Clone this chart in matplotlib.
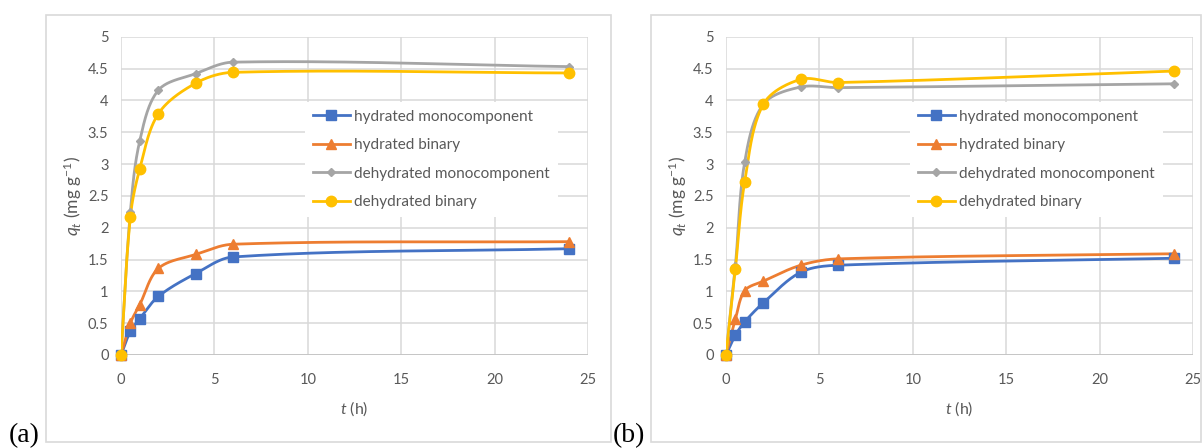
import matplotlib.pyplot as plt
from matplotlib.patches import Rectangle
import numpy as np

plt.rcParams['font.family'] = ['Lato', 'DejaVu Sans']
plt.rcParams['mathtext.fontset'] = 'custom'
plt.rcParams['mathtext.rm'] = 'Lato'
plt.rcParams['mathtext.it'] = 'Lato:italic'

# sampling times (h)
t_h = [0, 0.5, 1, 2, 4, 6, 24]

labels = ['hydrated monocomponent', 'hydrated binary',
          'dehydrated monocomponent', 'dehydrated binary']

# (a) uptake q_t (mg/g)
a_hyd_mono = [0, 0.37, 0.57, 0.92, 1.28, 1.54, 1.67]
a_hyd_bin = [0, 0.50, 0.79, 1.36, 1.58, 1.74, 1.78]
a_dehyd_mono = [0, 2.25, 3.36, 4.16, 4.42, 4.60, 4.53]
a_dehyd_bin = [0, 2.17, 2.92, 3.79, 4.27, 4.44, 4.43]

# (b) uptake q_t (mg/g)
b_hyd_mono = [0, 0.31, 0.52, 0.82, 1.30, 1.41, 1.52]
b_hyd_bin = [0, 0.56, 1.01, 1.16, 1.41, 1.51, 1.59]
b_dehyd_mono = [0, 1.40, 3.03, 3.94, 4.21, 4.20, 4.26]
b_dehyd_bin = [0, 1.35, 2.72, 3.94, 4.33, 4.28, 4.46]

colors = ['#4472C4', '#ED7D31', '#A5A5A5', '#FFC000']
markers = ['s', '^', 'D', 'o']
msizes = [6.5, 7, 4.5, 7.5]
txt_col = '#595959'
grid_col = '#D9D9D9'


def smooth(ax, x, y, n=40):
    # spline through the points, built in display space so segments scale evenly
    pts = ax.transData.transform(np.column_stack([x, y]))
    out = [pts[:1]]
    m = len(pts)
    for i in range(m - 1):
        p0, p1 = pts[i], pts[i + 1]
        d1 = np.linalg.norm(p1 - p0)
        if i > 0:
            dp = np.linalg.norm(p0 - pts[i - 1])
            c1 = p0 + (p1 - pts[i - 1]) * d1 / (dp + d1) / 3
        else:
            c1 = p0 + (p1 - p0) / 3
        if i < m - 2:
            dn = np.linalg.norm(pts[i + 2] - p1)
            c2 = p1 - (pts[i + 2] - p0) * d1 / (dn + d1) / 3
        else:
            c2 = p1 - (p1 - p0) / 3
        s = np.linspace(0, 1, n)[1:, None]
        seg = ((1 - s) ** 3 * p0 + 3 * (1 - s) ** 2 * s * c1
               + 3 * (1 - s) * s ** 2 * c2 + s ** 3 * p1)
        out.append(seg)
    path = np.vstack(out)
    return ax.transData.inverted().transform(path).T


fig = plt.figure(figsize=(12.03, 4.48), dpi=100)

# chart frames
for x0, w in [(0.0382, 0.4697), (0.5411, 0.4570)]:
    fig.patches.append(Rectangle((x0, 0.0134), w, 0.953, transform=fig.transFigure,
                                 fill=False, ec=grid_col, lw=1.2))

panels = [
    (0.1006, [a_hyd_mono, a_hyd_bin, a_dehyd_mono, a_dehyd_bin], '(a)', 0.007),
    (0.6035, [b_hyd_mono, b_hyd_bin, b_dehyd_mono, b_dehyd_bin], '(b)', 0.509),
]

for left, series, tag, tag_x in panels:
    ax = fig.add_axes([left, 0.2076, 0.3882, 0.7105])
    ax.set_xlim(0, 25)
    ax.set_ylim(0, 5)
    ax.set_xticks(np.arange(0, 26, 5))
    ax.set_yticks(np.arange(0, 5.01, 0.5))
    ax.set_yticklabels(['0', '0.5', '1', '1.5', '2', '2.5', '3', '3.5', '4', '4.5', '5'])
    ax.grid(True, color=grid_col, lw=1.1)
    ax.set_axisbelow(True)
    for sp in ax.spines.values():
        sp.set_visible(False)
    ax.axhline(0, color='#BFBFBF', lw=1.1, zorder=1)
    ax.tick_params(length=0, labelsize=10.5, labelcolor=txt_col)
    ax.tick_params(axis='x', pad=13)
    ax.tick_params(axis='y', pad=9)
    ax.set_xlabel('$t$ (h)', fontsize=11.5, color=txt_col, labelpad=9)
    ax.set_ylabel('$q_t$ (mg g$^{-1}$)', fontsize=12.5, color=txt_col, labelpad=3)

    for vals, col, mk, ms, lab in zip(series, colors, markers, msizes, labels):
        sx, sy = smooth(ax, t_h, vals)
        ax.plot(sx, sy, color=col, lw=2, zorder=3)
        ax.plot(t_h, vals, ls='none', marker=mk, ms=ms, color=col, mec=col,
                zorder=4, clip_on=False)
        ax.plot([], [], color=col, lw=2, marker=mk, ms=ms, mec=col, label=lab)

    leg = ax.legend(loc='upper left', bbox_to_anchor=(0.395, 0.795), fontsize=11,
                    frameon=True, fancybox=False, edgecolor='none', framealpha=1,
                    handlelength=2.4, handletextpad=0.3, labelspacing=0.95,
                    borderpad=0.5, borderaxespad=0)
    for txt in leg.get_texts():
        txt.set_color(txt_col)

    fig.text(tag_x, 0.012, tag, family='Liberation Serif', fontsize=20,
             ha='left', va='baseline')

fig.savefig('out.png', dpi=100)
